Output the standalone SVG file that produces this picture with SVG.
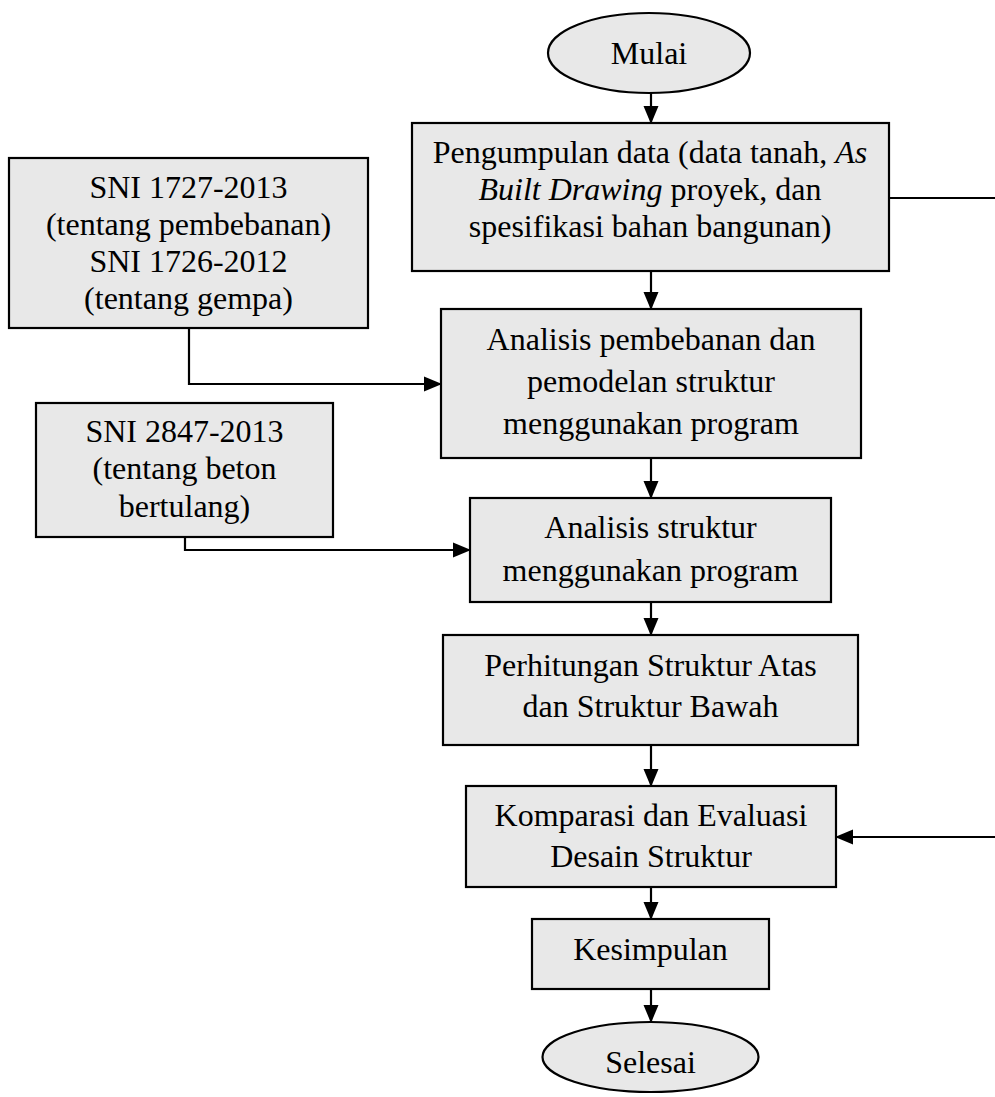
<svg xmlns="http://www.w3.org/2000/svg" width="995" height="1097" viewBox="0 0 995 1097">
<style>
.box{fill:#e8e8e8;stroke:#000;stroke-width:2.2}
.t{font-family:"Liberation Serif","Times New Roman",serif;font-size:32px;fill:#000;text-anchor:middle}
.c{fill:none;stroke:#000;stroke-width:2.2}
</style>
<defs>
<marker id="ah" markerUnits="userSpaceOnUse" markerWidth="18" markerHeight="16" refX="17" refY="8" orient="auto">
<path d="M0,0.5 L18,8 L0,15.5 z" fill="#000"/>
</marker>
</defs>
<rect width="995" height="1097" fill="#fff"/>
<g id="mulai">
<ellipse class="box" cx="649" cy="53" rx="101" ry="40"/>
<text class="t" x="649" y="64">Mulai</text>
</g>
<g id="pengumpulan">
<rect class="box" x="412" y="123" width="477" height="148"/>
<text class="t" x="650" y="163">Pengumpulan data (data tanah, <tspan font-style="italic">As</tspan></text>
<text class="t" x="650" y="200"><tspan font-style="italic">Built Drawing</tspan> proyek, dan</text>
<text class="t" x="650" y="237">spesifikasi bahan bangunan)</text>
</g>
<g id="sni1727">
<rect class="box" x="9" y="158" width="359" height="170"/>
<text class="t" x="188.5" y="198">SNI 1727-2013</text>
<text class="t" x="188.5" y="235">(tentang pembebanan)</text>
<text class="t" x="188.5" y="272">SNI 1726-2012</text>
<text class="t" x="188.5" y="309">(tentang gempa)</text>
</g>
<g id="analisis-pembebanan">
<rect class="box" x="441" y="309" width="420" height="149"/>
<text class="t" x="651" y="350">Analisis pembebanan dan</text>
<text class="t" x="651" y="392">pemodelan struktur</text>
<text class="t" x="651" y="434">menggunakan program</text>
</g>
<g id="sni2847">
<rect class="box" x="36" y="403" width="297" height="134"/>
<text class="t" x="184.5" y="442">SNI 2847-2013</text>
<text class="t" x="184.5" y="479">(tentang beton</text>
<text class="t" x="184.5" y="517">bertulang)</text>
</g>
<g id="analisis-struktur">
<rect class="box" x="470" y="498" width="361" height="104"/>
<text class="t" x="650.5" y="538">Analisis struktur</text>
<text class="t" x="650.5" y="581">menggunakan program</text>
</g>
<g id="perhitungan">
<rect class="box" x="443" y="635" width="415" height="110"/>
<text class="t" x="650.5" y="676">Perhitungan Struktur Atas</text>
<text class="t" x="650.5" y="717">dan Struktur Bawah</text>
</g>
<g id="komparasi">
<rect class="box" x="466" y="786" width="370" height="101"/>
<text class="t" x="651" y="826">Komparasi dan Evaluasi</text>
<text class="t" x="651" y="867">Desain Struktur</text>
</g>
<g id="kesimpulan">
<rect class="box" x="532" y="919" width="237" height="70"/>
<text class="t" x="650.5" y="960">Kesimpulan</text>
</g>
<g id="selesai">
<ellipse class="box" cx="650.5" cy="1057" rx="108" ry="35"/>
<text class="t" x="650.5" y="1073">Selesai</text>
</g>
<g id="connectors">
<line class="c" x1="651" y1="93" x2="651" y2="123" marker-end="url(#ah)"/>
<line class="c" x1="651" y1="271" x2="651" y2="309" marker-end="url(#ah)"/>
<line class="c" x1="651" y1="458" x2="651" y2="498" marker-end="url(#ah)"/>
<line class="c" x1="651" y1="602" x2="651" y2="635" marker-end="url(#ah)"/>
<line class="c" x1="651" y1="745" x2="651" y2="786" marker-end="url(#ah)"/>
<line class="c" x1="651" y1="887" x2="651" y2="919" marker-end="url(#ah)"/>
<line class="c" x1="651" y1="989" x2="651" y2="1022" marker-end="url(#ah)"/>
<polyline class="c" points="189,328 189,384 441,384" marker-end="url(#ah)"/>
<polyline class="c" points="185,537 185,550 470,550" marker-end="url(#ah)"/>
<line class="c" x1="889" y1="198" x2="995" y2="198"/>
<line class="c" x1="995" y1="837" x2="836" y2="837" marker-end="url(#ah)"/>
</g>
</svg>
